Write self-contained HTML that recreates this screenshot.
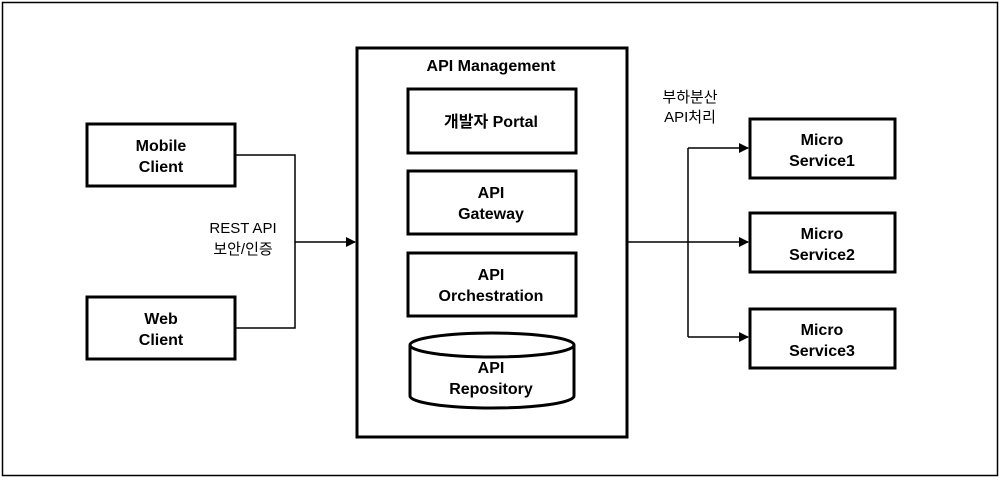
<!DOCTYPE html>
<html><head><meta charset="utf-8"><style>
body{margin:0;background:#fff}
svg text{font-family:"Liberation Sans","Noto Sans CJK KR",sans-serif;fill:#000}
.b{font-weight:bold;font-size:16px}
.n{font-size:15px}
</style></head><body>
<svg width="1000" height="479" viewBox="0 0 1000 479">
<defs><marker id="a" markerWidth="10" markerHeight="10" refX="9" refY="5" orient="auto" markerUnits="userSpaceOnUse"><path d="M0,0 L10,5 L0,10 z" fill="#000"/></marker></defs>
<rect x="2.5" y="2.5" width="995" height="473" fill="none" stroke="#000" stroke-width="1.5"/>
<g fill="#fff" stroke="#000" stroke-width="3">
<rect x="87" y="124" width="148" height="62"/>
<rect x="87" y="297" width="148" height="62"/>
<rect x="357" y="48" width="270" height="389"/>
<rect x="408" y="89" width="168" height="64"/>
<rect x="408" y="171" width="168" height="63"/>
<rect x="408" y="253" width="168" height="63"/>
<rect x="750" y="119" width="145" height="59"/>
<rect x="750" y="213" width="145" height="59"/>
<rect x="750" y="309" width="145" height="59"/>
<path d="M410,345 L410,396 A82,12 0 0 0 574,396 L574,345" />
<ellipse cx="492" cy="345" rx="82" ry="12"/>
</g>
<g fill="none" stroke="#000" stroke-width="1.5">
<path d="M235,155 H295 V328 H235"/>
<path d="M295,242 H355" marker-end="url(#a)"/>
<path d="M627,242 H748" marker-end="url(#a)"/>
<path d="M688,148 V337"/>
<path d="M688,148 H748" marker-end="url(#a)"/>
<path d="M688,337 H748" marker-end="url(#a)"/>
</g>
<g class="b" text-anchor="middle">
<text x="161" y="151">Mobile</text><text x="161" y="172">Client</text>
<text x="161" y="324">Web</text><text x="161" y="345">Client</text>
<text x="491" y="71">API Management</text>
<text x="491" y="127">개발자 Portal</text>
<text x="491" y="198">API</text><text x="491" y="219">Gateway</text>
<text x="491" y="280">API</text><text x="491" y="301">Orchestration</text>
<text x="491" y="373">API</text><text x="491" y="394">Repository</text>
<text x="822" y="145">Micro</text><text x="822" y="166">Service1</text>
<text x="822" y="239">Micro</text><text x="822" y="260">Service2</text>
<text x="822" y="335">Micro</text><text x="822" y="356">Service3</text>
</g>
<g class="n" text-anchor="middle">
<text x="243" y="233">REST API</text><text x="243" y="254">보안/인증</text>
<text x="690" y="102">부하분산</text><text x="690" y="122">API처리</text>
</g>
</svg>
</body></html>
